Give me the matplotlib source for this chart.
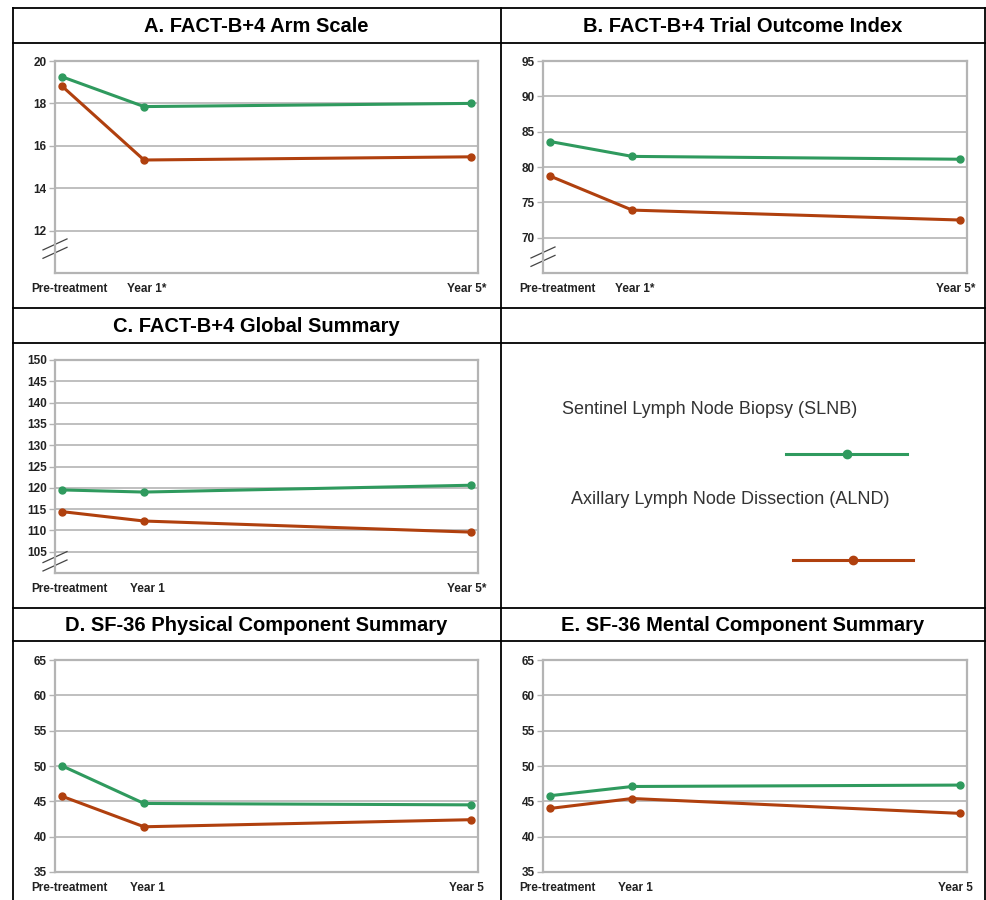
import matplotlib
matplotlib.use("Agg")
import matplotlib.pyplot as plt
from matplotlib.lines import Line2D
from matplotlib.transforms import blended_transform_factory, ScaledTranslation

plt.rcParams["font.family"] = ["Liberation Sans", "DejaVu Sans"]

W, H = 986, 900
GREEN = "#2f9a5e"
RED = "#b0400e"
GRID = "#b4b4b4"

x_pos = [0, 1, 5]
labels_star = ["Pre-treatment", "Year 1*", "Year 5*"]
labels_c = ["Pre-treatment", "Year 1", "Year 5*"]
labels_plain = ["Pre-treatment", "Year 1", "Year 5"]

# data
arm_slnb = [19.25, 17.85, 18.0]
arm_alnd = [18.8, 15.33, 15.48]
toi_slnb = [83.6, 81.5, 81.1]
toi_alnd = [78.7, 73.9, 72.5]
glob_slnb = [119.5, 119.0, 120.6]
glob_alnd = [114.4, 112.2, 109.6]
pcs_slnb = [50.0, 44.7, 44.5]
pcs_alnd = [45.7, 41.4, 42.4]
mcs_slnb = [45.8, 47.1, 47.3]
mcs_alnd = [44.0, 45.4, 43.3]

fig = plt.figure(figsize=(W / 100, H / 100), dpi=100)


def rect(l, t, r, b):
    return [l / W, 1 - b / H, (r - l) / W, (b - t) / H]


def panel(box, slnb, alnd, ylim, yticks, xlabels, brk=None):
    ax = fig.add_axes(rect(*box))
    ax.plot(x_pos, slnb, color=GREEN, lw=2.2, marker="o", ms=5, zorder=3, clip_on=False)
    ax.plot(x_pos, alnd, color=RED, lw=2.2, marker="o", ms=5, zorder=3, clip_on=False)
    ax.set_xlim(-0.09, 5.09)
    ax.set_ylim(*ylim)
    ax.set_yticks(yticks)
    ax.set_yticklabels([str(v) for v in yticks], fontsize=8.5, fontweight="bold", color="#222222")
    ax.tick_params(axis="y", length=4, width=1, color=GRID, pad=2)
    ax.set_xticks([])
    ax.grid(axis="y", color=GRID, lw=1.2)
    ax.set_axisbelow(True)
    for s in ax.spines.values():
        s.set_color(GRID)
        s.set_linewidth(1.6)
    trans = blended_transform_factory(ax.transData, ax.transAxes)
    for i, (xp, lab) in enumerate(zip(x_pos, xlabels)):
        dx = 7 if i == 0 else (3 if i == 1 else -4)
        t = trans + ScaledTranslation(dx / 100, -16 / 100, fig.dpi_scale_trans)
        ax.text(xp, 0, lab, transform=t, ha="center", va="center",
                fontsize=8.5, fontweight="bold", color="#222222")
    if brk is not None:
        wpx = (box[2] - box[0])
        hpx = (box[3] - box[1])
        for off in (-4.2, 4.2):
            yc = brk + off / hpx
            ax.plot([-12 / wpx, 12 / wpx], [yc - 5.5 / hpx, yc + 5.5 / hpx],
                    transform=ax.transAxes, color="#444444", lw=0.9, clip_on=False)
    return ax


panel((55, 61, 478, 273), arm_slnb, arm_alnd, (10, 20), [12, 14, 16, 18, 20], labels_star, brk=0.115)
panel((543, 61, 967, 273), toi_slnb, toi_alnd, (65, 95), [70, 75, 80, 85, 90, 95], labels_star, brk=0.077)
panel((55, 360, 478, 573), glob_slnb, glob_alnd, (100, 150), list(range(105, 151, 5)), labels_c, brk=0.055)
panel((55, 660, 478, 872), pcs_slnb, pcs_alnd, (35, 65), [35, 40, 45, 50, 55, 60, 65], labels_plain)
panel((543, 660, 967, 872), mcs_slnb, mcs_alnd, (35, 65), [35, 40, 45, 50, 55, 60, 65], labels_plain)

# table frame
def hline(y, x0, x1):
    fig.add_artist(Line2D([x0 / W, x1 / W], [1 - y / H, 1 - y / H], color="black", lw=1.3))


def vline(x, y0, y1):
    fig.add_artist(Line2D([x / W, x / W], [1 - y0 / H, 1 - y1 / H], color="black", lw=1.3))


for y in (8, 43, 308, 342.5, 607.5, 641):
    hline(y, 12.5, 986)
vline(12.5, 8, 900)
vline(500.5, 8, 900)
vline(985, 8, 900)

titles = [
    (256, 26.5, "A. FACT-B+4 Arm Scale"),
    (743, 26.5, "B. FACT-B+4 Trial Outcome Index"),
    (256, 326, "C. FACT-B+4 Global Summary"),
    (256, 625.5, "D. SF-36 Physical Component Summary"),
    (743, 625.5, "E. SF-36 Mental Component Summary"),
]
for x, y, s in titles:
    fig.text(x / W, 1 - y / H, s, ha="center", va="center", fontsize=14.5, fontweight="bold")

# legend panel
legend_names = ["Sentinel Lymph Node Biopsy (SLNB)", "Axillary Lymph Node Dissection (ALND)"]
legend_colors = [GREEN, RED]
legend_text_pos = [(562, 409), (571, 500)]
legend_line_pos = [(786, 907, 454), (793, 913, 560)]
lax = fig.add_axes([0, 0, 1, 1], facecolor="none")
lax.set_xlim(0, W)
lax.set_ylim(H, 0)
lax.axis("off")
for name, c, (tx, ty), (x0, x1, ly) in zip(legend_names, legend_colors, legend_text_pos, legend_line_pos):
    lax.text(tx, ty, name, ha="left", va="center", fontsize=13, color="#333333")
    lax.plot([x0, x1], [ly, ly], color=c, lw=2.2)
    lax.plot([(x0 + x1) / 2], [ly], color=c, marker="o", ms=6)

fig.savefig("out.png", dpi=100)
